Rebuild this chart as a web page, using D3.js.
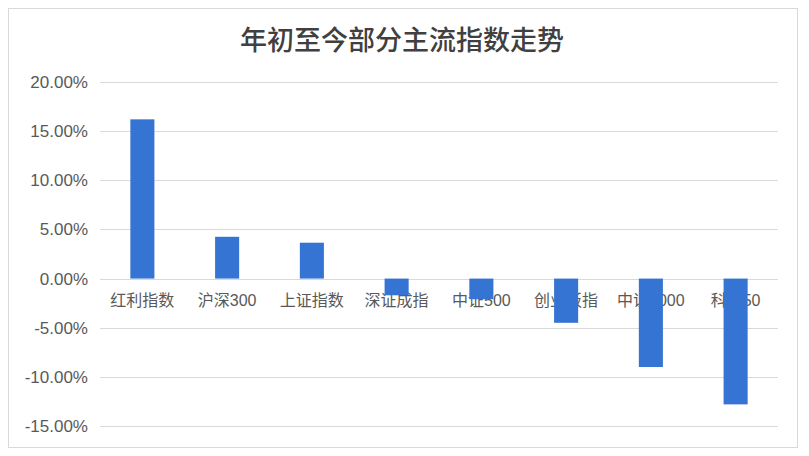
<!DOCTYPE html>
<html>
<head>
<meta charset="utf-8">
<script src="https://cdn.jsdelivr.net/npm/d3@7"></script>
<style>
  body { margin: 0; background: #fff; }
  svg { display: block; font-family: "Liberation Sans", "Noto Sans CJK SC", sans-serif; }
</style>
</head>
<body>
<svg id="chart" width="809" height="456"></svg>
<script>
var categories = ["红利指数", "沪深300", "上证指数", "深证成指", "中证500", "创业板指", "中证1000", "科创50"];
var values = [16.2, 4.25, 3.65, -1.7, -2.1, -4.5, -9.0, -12.8];
var ticks = [20, 15, 10, 5, 0, -5, -10, -15];

var svg = d3.select("#chart"),
    margin = {top: 82, right: 31, bottom: 30, left: 100},
    width = 778 - margin.left,
    height = 426 - margin.top;

// outer frame
svg.append("rect")
    .attr("x", 8.5).attr("y", 8.5)
    .attr("width", 789).attr("height", 439)
    .attr("fill", "#fff")
    .attr("stroke", "#d9d9d9");

svg.append("text")
    .attr("x", 402)
    .attr("y", 50)
    .attr("text-anchor", "middle")
    .style("font-family", "'Noto Sans CJK SC', sans-serif")
    .style("font-size", "27px")
    .style("font-weight", 500)
    .style("fill", "#404040")
    .text("年初至今部分主流指数走势");

var g = svg.append("g").attr("transform", "translate(" + margin.left + "," + margin.top + ")");

var x = d3.scaleBand().domain(categories).range([0, width]).paddingInner(0.716).paddingOuter(0.358);
var y = d3.scaleLinear().domain([-15, 20]).range([height, 0]);

// gridlines
g.selectAll(".grid")
  .data(ticks)
  .enter().append("line")
    .attr("x1", 0).attr("x2", width)
    .attr("y1", function(d) { return Math.round(y(d)) + 0.5; })
    .attr("y2", function(d) { return Math.round(y(d)) + 0.5; })
    .attr("stroke", "#d9d9d9")
    .attr("stroke-width", 1);

// y labels
g.selectAll(".ylab")
  .data(ticks)
  .enter().append("text")
    .attr("x", -12)
    .attr("y", function(d) { return y(d); })
    .attr("dy", "0.35em")
    .attr("text-anchor", "end")
    .style("font-size", "17px")
    .style("fill", "#595959")
    .text(function(d) { return d.toFixed(2) + "%"; });

// category labels (sit under the bars)
g.selectAll(".xlab")
  .data(categories)
  .enter().append("text")
    .attr("x", function(d) { return x(d) + x.bandwidth() / 2; })
    .attr("y", y(0) + 27)
    .attr("text-anchor", "middle")
    .style("font-size", "16px")
    .style("fill", "#595959")
    .text(function(d) { return d; });

// bars
g.selectAll(".bar")
  .data(values)
  .enter().append("rect")
    .attr("x", function(d, i) { return x(categories[i]); })
    .attr("width", x.bandwidth())
    .attr("y", function(d) { return y(Math.max(0, d)); })
    .attr("height", function(d) { return Math.abs(y(d) - y(0)); })
    .attr("fill", "#3674d3");
</script>
</body>
</html>
